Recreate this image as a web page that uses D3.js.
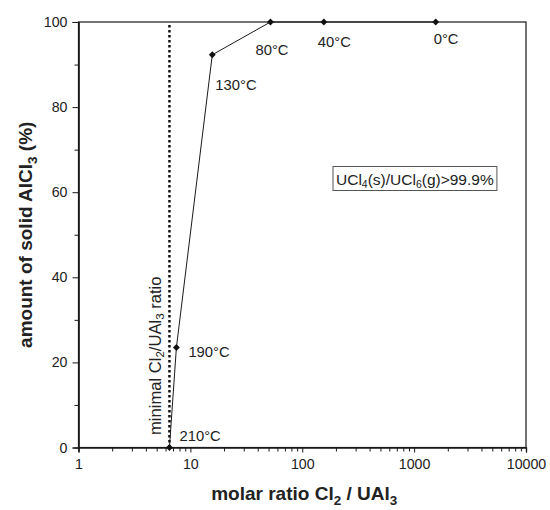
<!DOCTYPE html>
<html><head><meta charset="utf-8">
<script src="https://cdn.jsdelivr.net/npm/d3@7"></script>
<style>body{margin:0;background:#fff;} svg{display:block;font-family:"Liberation Sans",Arial,sans-serif;}</style>
</head><body>
<svg id="c" width="550" height="510"></svg>
<script>
const temps = ["210°C","190°C","130°C","80°C","40°C","0°C"];
const ratios = [6.5, 7.5, 15.7, 52, 156, 1560];
const solidPct = [0, 23.5, 92.3, 100, 100, 100];
const minimalRatio = 6.5;
const xTicks = [1, 10, 100, 1000, 10000];
const yTicks = [0, 20, 40, 60, 80, 100];
const labelOffsets = [[10,-7],[12,9],[3,35],[-15,33],[-6,25],[-2,22]]; // label placement relative to point
const noteText = ["UCl","4","(s)/UCl","6","(g)>99.9%"];

const svg = d3.select("#c");
const M = {l:78.5, r:526, t:22, b:447.5};
const x = d3.scaleLog().domain([1,10000]).range([M.l, M.r]);
const y = d3.scaleLinear().domain([0,100]).range([M.b, M.t]);
const col = "#1a1a1a";
const fs = 14.8;
const tfs = 14.2;

// frame
svg.append("rect").attr("x",M.l).attr("y",M.t).attr("width",M.r-M.l).attr("height",M.b-M.t)
  .attr("fill","none").attr("stroke",col).attr("stroke-width",1.2);

// x axis
const minorX = [];
for (let d=1; d<10000; d*=10) for (let k=2;k<10;k++) minorX.push(d*k);
const gx = svg.append("g").attr("transform",`translate(0,${M.b})`);
gx.call(d3.axisBottom(x).tickValues(minorX).tickSize(4).tickFormat(""));
gx.append("g").call(d3.axisBottom(x).tickValues(xTicks).tickSize(5).tickPadding(6).tickFormat(d3.format("d")));
gx.selectAll(".domain").attr("stroke",col).attr("stroke-width",1.2);
gx.selectAll("line").attr("stroke",col);
gx.selectAll("text").attr("font-size",tfs).attr("fill","#222").attr("font-family","Liberation Sans, Arial");

// y axis
const gy = svg.append("g").attr("transform",`translate(${M.l},0)`);
gy.call(d3.axisLeft(y).tickValues(d3.range(10,100,20)).tickSize(4).tickFormat(""));
gy.append("g").call(d3.axisLeft(y).tickValues(yTicks).tickSize(6).tickPadding(5).tickFormat(d3.format("d")));
gy.selectAll(".domain").attr("stroke",col).attr("stroke-width",1.2);
gy.selectAll("line").attr("stroke",col);
gy.selectAll("text").attr("font-size",tfs).attr("fill","#222").attr("font-family","Liberation Sans, Arial");

// minimal ratio dotted line
svg.append("line").attr("x1",x(minimalRatio)).attr("x2",x(minimalRatio))
  .attr("y1",M.b).attr("y2",M.t+3).attr("stroke","#111").attr("stroke-width",2.5)
  .attr("stroke-dasharray","2.5,2.5");

// data line
const pts = ratios.map((r,i)=>[r,solidPct[i]]);
svg.append("path").datum(pts).attr("fill","none").attr("stroke",col).attr("stroke-width",1)
  .attr("d", d3.line().x(d=>x(d[0])).y(d=>y(d[1])));
svg.selectAll(".mk").data(pts).join("path").attr("class","mk")
  .attr("transform",d=>`translate(${x(d[0])},${y(d[1])})`)
  .attr("d", d3.symbol(d3.symbolDiamond2 || d3.symbolDiamond, 30)()).attr("fill","#111");

// temperature labels
svg.selectAll(".tl").data(pts).join("text").attr("class","tl")
  .attr("x",(d,i)=>x(d[0])+labelOffsets[i][0])
  .attr("y",(d,i)=>y(d[1])+labelOffsets[i][1])
  .attr("font-size",fs).attr("fill","#222").text((d,i)=>temps[i]);

// note box
const nb = svg.append("g");
const nt = nb.append("text").attr("x",336).attr("y",184.5).attr("font-size",15.5).attr("fill","#222");
noteText.forEach((s,i)=>{
  const t = nt.append("tspan").text(s);
  if (i%2===1) t.attr("font-size",10.5).attr("dy",3); else if (i>0) t.attr("dy",-3);
});
const bb = nt.node().getBBox();
nb.insert("rect","text").attr("x",bb.x-3).attr("y",166.5).attr("width",bb.width+6).attr("height",24)
  .attr("fill","#fff").attr("stroke","#555").attr("stroke-width",1);

// vertical annotation
const va = svg.append("text").attr("transform",`translate(${x(minimalRatio)-8},435) rotate(-90)`)
  .attr("font-size",16.6).attr("fill","#222");
va.append("tspan").text("minimal Cl");
va.append("tspan").text("2").attr("font-size",11.5).attr("dy",3);
va.append("tspan").text("/UAl").attr("dy",-3);
va.append("tspan").text("3").attr("font-size",11.5).attr("dy",3);
va.append("tspan").text(" ratio").attr("dy",-3);

// axis titles
const xt = svg.append("text").attr("x",(M.l+M.r)/2+2).attr("y",500).attr("text-anchor","middle")
  .attr("font-size",19).attr("font-weight","bold").attr("fill","#222");
xt.append("tspan").text("molar ratio Cl");
xt.append("tspan").text("2").attr("font-size",13.5).attr("dy",5);
xt.append("tspan").text(" / UAl").attr("dy",-5);
xt.append("tspan").text("3").attr("font-size",13.5).attr("dy",5);

const yt = svg.append("text").attr("transform",`translate(32,${(M.t+M.b)/2}) rotate(-90)`).attr("text-anchor","middle")
  .attr("font-size",19).attr("font-weight","bold").attr("fill","#222");
yt.append("tspan").text("amount of solid AlCl");
yt.append("tspan").text("3").attr("font-size",13.5).attr("dy",5);
yt.append("tspan").text(" (%)").attr("dy",-5);
</script>
</body></html>
